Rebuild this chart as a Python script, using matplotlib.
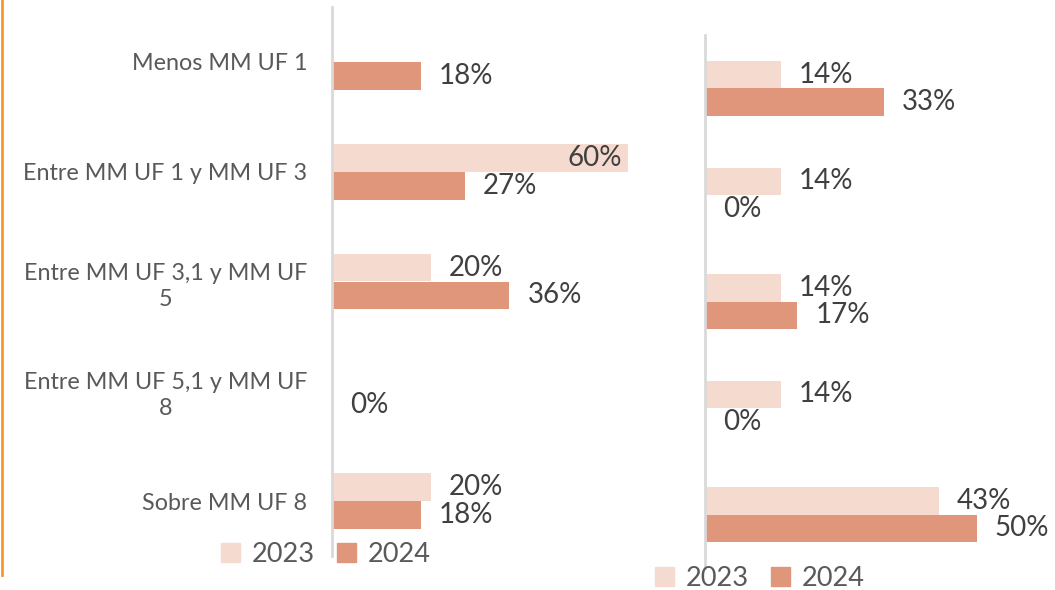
import matplotlib
matplotlib.use("Agg")
import matplotlib.pyplot as plt
from matplotlib.patches import Patch
from matplotlib.lines import Line2D

plt.rcParams['font.family'] = ['Lato', 'DejaVu Sans']

categorias = ["Menos MM UF 1", "Entre MM UF 1 y MM UF 3", "Entre MM UF 3,1 y MM UF\n5",
              "Entre MM UF 5,1 y MM UF\n8", "Sobre MM UF 8"]
anos = ["2023", "2024"]

izq_2023 = [None, 0.60, 0.20, None, 0.20]
izq_2024 = [0.18, 0.27, 0.36, 0.00, 0.18]
der_2023 = [0.14, 0.14, 0.14, 0.14, 0.43]
der_2024 = [0.33, 0.00, 0.17, 0.00, 0.50]

c2023 = '#F5DBCF'
c2024 = '#E0967A'
gris_eje = '#D9D9D9'
texto = '#404040'

W, H = 1055, 590
fig = plt.figure(figsize=(W / 100, H / 100), dpi=100)


def panel(rect, xmax, serie23, serie24, bh):
    ax = fig.add_axes(rect)
    pos = range(len(categorias))
    for i in pos:
        for val, dy, col in ((serie23[i], -bh / 2, c2023), (serie24[i], bh / 2, c2024)):
            if val is None:
                continue
            ax.barh(i + dy, val, height=bh, color=col)
            lbl = f"{round(val * 100):.0f}%"
            # la etiqueta no cabe fuera -> va dentro de la barra
            if val / xmax > 0.85:
                ax.annotate(lbl, (val, i + dy), xytext=(-6, 0), textcoords='offset pixels',
                            ha='right', va='center', fontsize=20, color=texto)
            else:
                ax.annotate(lbl, (val, i + dy), xytext=(18, 0), textcoords='offset pixels',
                            ha='left', va='center', fontsize=20, color=texto)
    ax.set_xlim(0, xmax)
    ax.set_ylim(len(categorias) - 0.5, -0.5)
    ax.set_xticks([])
    for s in ('top', 'right', 'bottom'):
        ax.spines[s].set_visible(False)
    ax.spines['left'].set_color(gris_eje)
    ax.spines['left'].set_linewidth(2)
    ax.patch.set_alpha(0)
    return ax


# panel izquierdo
ax1 = panel([332 / W, 1 - 556 / H, 345 / W, 549 / H], 0.70, izq_2023, izq_2024, 0.255)
ax1.set_yticks(range(len(categorias)))
ax1.set_yticklabels(categorias, fontsize=16.8, color='#595959')
ax1.tick_params(axis='y', length=0, pad=18)
for t in ax1.get_yticklabels():
    t.set_multialignment('center')
    t.set_linespacing(1.3)

# panel derecho
ax2 = panel([705 / W, 1 - 568 / H, 326 / W, 533 / H], 0.60, der_2023, der_2024, 0.256)
ax2.set_yticks([])

handles = [Patch(color=c2023), Patch(color=c2024)]
for cx, cy in ((326, 554), (760, 578)):
    fig.legend(handles, anos, ncol=2, loc='center', bbox_to_anchor=(cx / W, 1 - cy / H),
               frameon=False, fontsize=19.5, labelcolor='#595959', handlelength=0.7,
               handleheight=0.7, handletextpad=0.45, columnspacing=0.8, borderpad=0)

fig.add_artist(Line2D([1.5 / W, 1.5 / W], [1 - 575 / H, 1], color='#F39A2B', lw=2,
                      transform=fig.transFigure))

fig.savefig('out.png', dpi=100)
